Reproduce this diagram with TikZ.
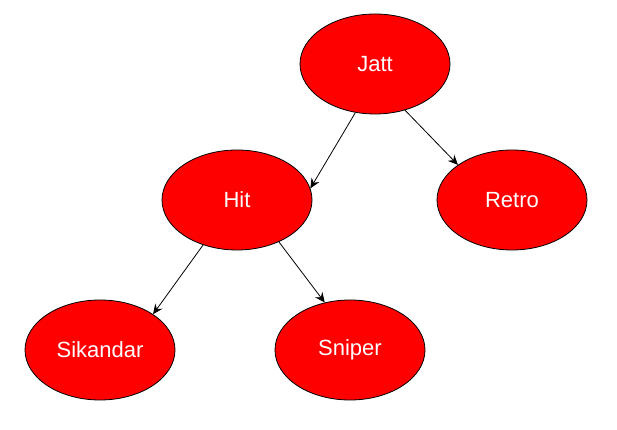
\documentclass[tikz,border=0pt]{standalone}
\usepackage{fontspec}
\setmainfont{Liberation Sans}
\usetikzlibrary{shapes.geometric, arrows.meta}

\begin{document}
\begin{tikzpicture}[x=1pt, y=1pt,
        treenode/.style = {ellipse, draw = black, fill = red, text = white,
            line width = 0.8pt,
            minimum width = 150pt, minimum height = 100pt, inner sep = 0pt,
            font = \fontsize{22}{26}\selectfont},
        treeedge/.style = {-{Stealth[length=10pt, width=9pt, inset=3.5pt]}, line width = 0.8pt}]

    \useasboundingbox (0,0) rectangle (617,430);

    % Nodes:
    \node[treenode] (jatt) at (375,366) {Jatt};
    \node[treenode] (hit) at (237,230) {Hit};
    \node[treenode] (retro) at (512,230) {Retro};
    \node[treenode] (sikandar) at (100,80) {Sikandar};
    \node[treenode] (sniper) at (350,80) {Sniper};

    % Edges:
    \draw[treeedge] (jatt.-112) -- (hit.9);
    \draw[treeedge] (jatt.-57) -- (retro.147);
    \draw[treeedge] (hit.-127) -- (sikandar.34);
    \draw[treeedge] (hit.-45) -- (sniper.118);
\end{tikzpicture}
\end{document}
